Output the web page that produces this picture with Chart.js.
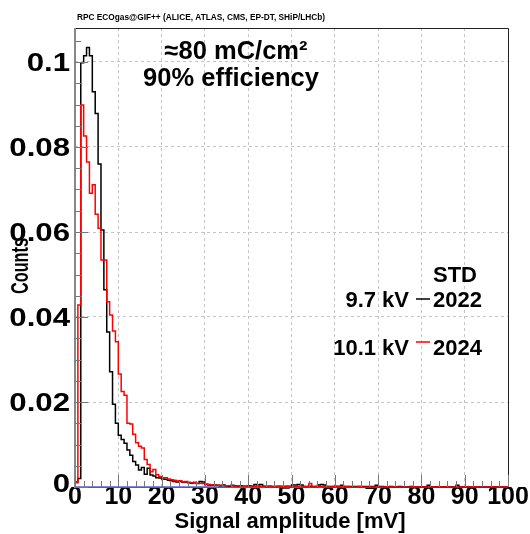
<!DOCTYPE html>
<html>
<head>
<meta charset="utf-8">
<script src="https://cdn.jsdelivr.net/npm/chart.js@4.4.1/dist/chart.umd.min.js"></script>
<style>
  html, body { margin: 0; padding: 0; background: #fff; }
</style>
</head>
<body>
<canvas id="ampChart" width="530" height="534"></canvas>
<script>
// histogram binning: 150 bins of 2/3 mV from 0 to 100 mV
const binWidth = 2 / 3;
const xMax = 100;
const yMax = 0.108;
const xTicks = [0, 10, 20, 30, 40, 50, 60, 70, 80, 90, 100];
const yTicks = [0, 0.02, 0.04, 0.06, 0.08, 0.1];
const yTickLabels = ["0", "0.02", "0.04", "0.06", "0.08", "0.1"];

// STD 2022, 9.7 kV (black)
const counts2022 = [
  0, 0.0012, 0.0020, 0.0998, 0.1015, 0.1034, 0.1015, 0.0930, 0.0879, 0.0760,
  0.0605, 0.0464, 0.0365, 0.0271, 0.0195, 0.0150, 0.0122, 0.0112, 0.0103, 0.0087,
  0.0075, 0.0060, 0.0052, 0.0040, 0.0046, 0.0030, 0.0044, 0.0028, 0.0026, 0.0022,
  0.0021, 0.0019, 0.0018, 0.0016, 0.0015, 0.0013, 0.0012, 0.0013, 0.0011, 0.0012,
  0.0010, 0.0009, 0.0010, 0.0008, 0.0013, 0.0012, 0.0006, 0.0005, 0.0004, 0.0005,
  0.0004, 0.0003, 0.0005, 0.0003, 0.0002, 0.0004, 0.0003, 0.0002, 0.0003, 0.0002,
  0.0002, 0.0003, 0.0002, 0.0006, 0.0005, 0.0006, 0.0002, 0.0001, 0.0002, 0.0001,
  0.0001, 0.0002, 0.0001, 0.0001, 0.0002, 0.0001, 0.0005, 0.0005, 0.0006, 0.0005,
  0.0001, 0.0001, 0.0002, 0.0001, 0.0001, 0.0005, 0.0006, 0.0005, 0.0001, 0.0001,
  0.0001, 0.0002, 0.0001, 0.0004, 0.0001, 0.0001, 0.0001, 0.0001, 0.0001, 0.0001,
  0.0001, 0.0001, 0.0001, 0.0001, 0.0001, 0.0004, 0.0001, 0.0001, 0, 0,
  0.0001, 0, 0, 0.0001, 0, 0, 0, 0.0001, 0, 0,
  0, 0, 0, 0.0004, 0, 0, 0, 0, 0, 0,
  0, 0, 0, 0.0004, 0, 0, 0, 0, 0, 0,
  0, 0, 0, 0, 0, 0, 0, 0, 0, 0
];

// STD 2024, 10.1 kV (red)
const counts2024 = [
  0, 0.0010, 0.0428, 0.0899, 0.0826, 0.0765, 0.0691, 0.0711, 0.0642, 0.0609,
  0.0534, 0.0534, 0.0436, 0.0405, 0.0367, 0.0342, 0.0266, 0.0225, 0.0216, 0.0150,
  0.0148, 0.0124, 0.0104, 0.0096, 0.0092, 0.0065, 0.0053, 0.0036, 0.0041, 0.0029,
  0.0025, 0.0022, 0.0022, 0.0019, 0.0017, 0.0016, 0.0014, 0.0015, 0.0012, 0.0013,
  0.0011, 0.0010, 0.0011, 0.0009, 0.0009, 0.0008, 0.0007, 0.0006, 0.0005, 0.0005,
  0.0004, 0.0004, 0.0003, 0.0003, 0.0003, 0.0003, 0.0002, 0.0003, 0.0002, 0.0002,
  0.0002, 0.0002, 0.0002, 0.0002, 0.0002, 0.0001, 0.0002, 0.0001, 0.0002, 0.0001,
  0.0001, 0.0001, 0.0002, 0.0001, 0.0001, 0.0001, 0.0001, 0.0001, 0.0001, 0.0001,
  0.0001, 0.0001, 0.0008, 0.0001, 0.0001, 0.0001, 0.0001, 0, 0.0001, 0,
  0.0001, 0, 0.0001, 0, 0, 0.0001, 0, 0, 0, 0.0001,
  0, 0, 0, 0, 0, 0, 0, 0, 0, 0,
  0, 0, 0, 0, 0, 0, 0, 0, 0, 0,
  0, 0, 0, 0, 0, 0, 0, 0, 0, 0,
  0, 0, 0, 0, 0, 0, 0, 0, 0, 0,
  0, 0, 0, 0, 0, 0, 0, 0, 0, 0
];

const baseline = [0, 0];

const headerText = "RPC ECOgas@GIF++ (ALICE, ATLAS, CMS, EP-DT, SHiP/LHCb)";
const noteLines = ["\u224880 mC/cm\u00b2", "90% efficiency"];
const legendTitle = "STD";
const legendYears = ["2022", "2024"];
const legendHV = ["9.7 kV", "10.1 kV"];
const colors = ["#000000", "#ff0000"];

// turn bin contents into step points at the bin edges
function toSteps(vals) {
  const pts = vals.map((v, i) => ({ x: i * binWidth, y: v }));
  pts.push({ x: xMax, y: vals[vals.length - 1] });
  return pts;
}

const tickFont = { family: "Liberation Sans", weight: "bold", size: 25, lineHeight: 1 };

const frameAndText = {
  id: "frameAndText",
  beforeDatasetsDraw(chart) {
    const { ctx, chartArea: a } = chart;
    ctx.save();
    ctx.strokeStyle = "#555";
    ctx.lineWidth = 1;
    ctx.beginPath();
    ctx.moveTo(a.left, a.bottom + 0.5);
    ctx.lineTo(a.right, a.bottom + 0.5);
    ctx.stroke();
    ctx.restore();
  },
  afterDraw(chart) {
    const { ctx, chartArea: a, scales } = chart;
    const x = scales.x, y = scales.y;
    ctx.save();

    // frame
    ctx.strokeStyle = "#222";
    ctx.lineWidth = 1;
    ctx.beginPath();
    ctx.moveTo(a.left, a.top + 0.5);
    ctx.lineTo(a.right + 0.5, a.top + 0.5);
    ctx.lineTo(a.right + 0.5, a.bottom);
    ctx.stroke();
    ctx.strokeStyle = "#888";
    ctx.lineWidth = 2;
    ctx.beginPath();
    ctx.moveTo(a.left, a.top);
    ctx.lineTo(a.left, a.bottom + 1);
    ctx.stroke();

    // inward ticks
    ctx.lineWidth = 1;
    ctx.strokeStyle = "#777";
    ctx.beginPath();
    for (let v = 0; v <= xMax; v += 2) {
      const px = Math.round(x.getPixelForValue(v)) + 0.5;
      const len = v % 10 === 0 ? 12 : 6;
      ctx.moveTo(px, a.bottom);
      ctx.lineTo(px, a.bottom - len);
    }
    for (let k = 0; k * 0.005 <= yMax; k++) {
      const py = Math.round(y.getPixelForValue(k * 0.005)) + 0.5;
      const len = k % 4 === 0 ? 13 : 6;
      ctx.moveTo(a.left, py);
      ctx.lineTo(a.left + len, py);
    }
    ctx.stroke();

    ctx.fillStyle = "#000";

    // y tick labels, drawn a bit wider like the pad's stretched text
    ctx.font = "bold 26px 'Liberation Sans'";
    ctx.textAlign = "right";
    ctx.textBaseline = "middle";
    yTicks.forEach((v, i) => {
      const py = y.getPixelForValue(v) + (v === 0 ? -2 : 2);
      ctx.save();
      ctx.translate(a.left - 5, py);
      ctx.scale(1.2, 1);
      ctx.fillText(yTickLabels[i], 0, 0);
      ctx.restore();
    });

    // header
    ctx.textBaseline = "alphabetic";
    ctx.font = "bold 8.3px 'Liberation Sans'";
    ctx.textAlign = "left";
    ctx.fillText(headerText, 77, 20);

    // axis titles
    ctx.font = "bold 22px 'Liberation Sans'";
    ctx.textAlign = "center";
    ctx.fillText("Signal amplitude [mV]", 290, 528);
    ctx.save();
    ctx.font = "bold 24px 'Liberation Sans'";
    ctx.translate(28, 266);
    ctx.rotate(-Math.PI / 2);
    ctx.scale(0.68, 1);
    ctx.fillText("Counts", 0, 0);
    ctx.restore();

    // annotation
    ctx.font = "bold 25.5px 'Liberation Sans'";
    ctx.fillText(noteLines[0], 236, 59);
    ctx.fillText(noteLines[1], 231, 86);

    // legend
    ctx.font = "bold 22px 'Liberation Sans'";
    ctx.textAlign = "center";
    ctx.fillText(legendTitle, 455, 282);
    const rows = [307, 355];
    const lineY = [299, 342];
    rows.forEach((by, i) => {
      ctx.textAlign = "right";
      ctx.fillText(legendHV[i], 409, by);
      ctx.textAlign = "left";
      ctx.fillText(legendYears[i], 433, by);
      ctx.strokeStyle = colors[i];
      ctx.lineWidth = 1.5;
      ctx.beginPath();
      ctx.moveTo(416, lineY[i]);
      ctx.lineTo(430, lineY[i]);
      ctx.stroke();
    });
    ctx.restore();
  }
};

new Chart(document.getElementById("ampChart"), {
  type: "line",
  data: {
    datasets: [
      {
        label: "2024",
        data: toSteps(counts2024),
        borderColor: colors[1],
        borderWidth: 1.5,
        stepped: "after",
        pointRadius: 0,
        clip: 3
      },
      {
        label: "2022",
        data: toSteps(counts2022),
        borderColor: colors[0],
        borderWidth: 1.5,
        stepped: "after",
        pointRadius: 0,
        clip: 3
      },
      {
        label: "baseline",
        data: baseline.map((v, i) => ({ x: i * xMax, y: v })),
        borderColor: "#5b5bd6",
        borderWidth: 1.5,
        pointRadius: 0,
        clip: 3
      }
    ]
  },
  options: {
    responsive: false,
    animation: false,
    layout: { padding: { top: 28, right: 22, left: 0, bottom: 0 } },
    plugins: {
      legend: { display: false },
      tooltip: { enabled: false }
    },
    scales: {
      x: {
        type: "linear",
        min: 0,
        max: xMax,
        afterFit: (s) => { s.height = 47; },
        afterBuildTicks: (s) => { s.ticks = xTicks.map((v) => ({ value: v })); },
        ticks: {
          font: tickFont,
          color: "#000",
          padding: -2,
          maxRotation: 0,
          autoSkip: false,
          callback: (v) => String(v)
        },
        grid: {
          color: (c) => (c.tick && (c.tick.value === 0 || c.tick.value === xMax)) ? "rgba(0,0,0,0)" : "#c4c4c4",
          drawTicks: false
        },
        border: { display: false, dash: [3, 3] }
      },
      y: {
        type: "linear",
        min: 0,
        max: yMax,
        afterFit: (s) => { s.width = 75; },
        afterBuildTicks: (s) => { s.ticks = yTicks.map((v) => ({ value: v })); },
        ticks: { display: false },
        grid: {
          color: (c) => (c.tick && c.tick.value === 0) ? "rgba(0,0,0,0)" : "#c4c4c4",
          drawTicks: false
        },
        border: { display: false, dash: [3, 3] }
      }
    }
  },
  plugins: [frameAndText]
});
</script>
</body>
</html>
